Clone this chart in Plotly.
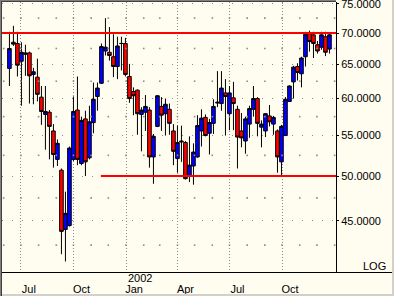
import math
import pandas as pd
import plotly.graph_objects as go

# Weekly bars, first week starting 2001-06-11
weeks = pd.date_range("2001-06-11", periods=81, freq="7D")

opens = [64.4, 68.5, 68.3, 65.5, 66.8, 66.8, 63.5, 63.1, 60.2, 57.8,
         58.1, 55.6, 52.0, 50.7, 44.1, 44.5, 52.0, 58.4, 51.5, 57.2,
         52.2, 56.7, 60.3, 62.2, 67.1, 66.9, 66.2, 64.7, 68.3, 68.3,
         63.2, 61.0, 61.2, 57.8, 58.1, 58.4, 52.3, 56.2, 58.9, 57.9,
         58.5, 55.6, 52.1, 54.3, 54.1, 50.0, 51.2, 52.3, 55.6, 57.4,
         55.3, 56.6, 59.5, 59.3, 60.8, 57.9, 60.1, 58.5, 55.6, 54.3,
         56.5, 58.5, 60.0, 56.1, 55.6, 57.6, 56.5, 55.6, 51.7, 55.0,
         59.6, 62.4, 64.7, 63.6, 66.2, 69.9, 69.7, 68.1, 67.7, 69.4,
         67.4]
highs = [70.2, 71.2, 70.2, 68.5, 68.1, 67.0, 64.5, 65.9, 61.8, 61.8,
         58.4, 56.5, 54.5, 50.9, 48.2, 53.6, 60.3, 63.2, 57.5, 58.3,
         59.0, 62.3, 62.3, 68.3, 72.5, 71.0, 69.8, 69.4, 69.4, 69.2,
         65.1, 61.6, 61.3, 58.8, 60.5, 58.8, 55.2, 60.5, 60.2, 60.0,
         59.3, 56.5, 56.3, 56.3, 54.3, 54.9, 54.0, 57.7, 58.5, 57.8,
         57.2, 59.9, 64.0, 64.0, 62.8, 61.8, 62.4, 59.0, 58.0, 57.5,
         59.0, 61.8, 60.2, 57.0, 58.0, 59.1, 57.6, 55.8, 56.4, 60.2,
         61.9, 64.8, 65.2, 66.2, 70.2, 70.4, 70.2, 68.7, 70.2, 70.2,
         70.0]
lows = [61.8, 67.9, 63.2, 59.0, 63.3, 59.3, 59.2, 59.6, 56.4, 53.2,
        52.0, 51.0, 51.2, 41.6, 40.9, 44.4, 51.8, 51.3, 51.3, 50.0,
        52.0, 55.3, 58.3, 62.1, 66.4, 65.6, 63.1, 62.8, 64.1, 63.2,
        59.4, 57.7, 55.1, 53.0, 55.6, 51.0, 49.1, 56.1, 55.6, 55.0,
        55.1, 51.3, 50.4, 51.7, 49.6, 49.3, 49.0, 52.2, 53.6, 54.9,
        52.6, 55.2, 58.8, 58.3, 55.0, 55.7, 55.7, 50.9, 53.5, 52.7,
        54.7, 57.5, 54.9, 53.5, 54.8, 56.2, 55.1, 50.4, 50.0, 55.0,
        59.6, 60.0, 62.6, 61.6, 64.7, 67.0, 66.0, 66.7, 67.3, 66.3,
        66.7]
closes = [67.5, 68.2, 64.9, 66.9, 66.6, 63.3, 63.9, 60.6, 58.2, 58.2,
          56.2, 52.6, 54.0, 43.9, 45.8, 53.4, 58.2, 52.0, 57.0, 51.7,
          56.8, 59.9, 61.5, 67.8, 67.7, 66.4, 64.7, 67.9, 68.3, 63.5,
          60.0, 60.4, 57.9, 58.4, 58.9, 52.3, 54.9, 60.4, 57.7, 59.2,
          56.6, 53.0, 54.1, 54.2, 49.7, 51.3, 52.9, 56.3, 57.3, 55.0,
          56.7, 58.9, 59.4, 61.5, 60.3, 60.8, 59.3, 54.8, 54.7, 57.2,
          58.6, 60.0, 56.6, 56.5, 57.9, 56.8, 57.4, 52.3, 56.2, 59.9,
          61.8, 64.6, 63.8, 66.0, 69.8, 68.6, 68.3, 67.1, 69.7, 66.9,
          69.7]

# Horizontal trend lines drawn on the chart: (start date, level)
resistance_start, resistance_level = "2001-05-01", 70.0
support_start, support_level = "2001-11-18", 50.0

y_ticks = [45, 50, 55, 60, 65, 70, 75]
y_minor = [42.5, 47.5, 52.5, 57.5, 62.5, 67.5, 72.5]
quarter_ticks = ["2001-07-01", "2001-10-01", "2002-01-01", "2002-04-01",
                 "2002-07-01", "2002-10-01"]
quarter_labels = ["Jul", "Oct", "Jan", "Apr", "Jul", "Oct"]
x_range = ["2001-05-29", "2003-01-03 10:00"]
y_range = [39.9, 75.3]

FONT = "Liberation Sans, Arial, sans-serif"
BG = "#FFFCF0"
GRID = "#8c8c8c"

months = pd.date_range("2001-06-01", "2003-01-01", freq="MS")
gx, gy = [], []
for m in months:
    for v in y_minor:
        gx.append(m)
        gy.append(v)

fig = go.Figure()
fig.add_trace(go.Scatter(x=gx, y=gy, mode="markers", hoverinfo="skip",
                         marker=dict(symbol="square", size=1.6, color=GRID, line=dict(width=0)),
                         showlegend=False))
fig.add_trace(go.Candlestick(
    x=weeks, open=opens, high=highs, low=lows, close=closes,
    increasing=dict(line=dict(color="black", width=1), fillcolor="#0000FF"),
    decreasing=dict(line=dict(color="black", width=1), fillcolor="#FF0000"),
    whiskerwidth=0, showlegend=False, hoverinfo="skip"))

fig.update_layout(
    width=394, height=296,
    margin=dict(l=2, r=58, t=2, b=24),
    paper_bgcolor=BG, plot_bgcolor=BG,
    boxgap=0.1, boxgroupgap=0,
    font=dict(family=FONT, size=11, color="black"),
    showlegend=False,
    xaxis=dict(type="date", range=x_range, rangeslider=dict(visible=False),
               automargin=False,
               tickvals=quarter_ticks, ticktext=quarter_labels,
               showgrid=True, gridcolor=GRID, griddash="1px,2px", gridwidth=1,
               showline=False, ticks="", zeroline=False,
               ticklabelshift=8, ticklabelstandoff=9,
               tickfont=dict(family=FONT, size=11, color="black")),
    yaxis=dict(type="log", side="right", automargin=False,
               range=[math.log10(y_range[0]), math.log10(y_range[1])],
               tickvals=y_ticks, ticktext=[f"{v:.4f}" for v in y_ticks],
               showgrid=True, gridcolor=GRID, griddash="1px,9px", gridwidth=1,
               showline=True, linecolor="black", linewidth=1, mirror=False,
               ticks="outside", ticklen=2, tickcolor="black",
               zeroline=False, ticklabeloverflow="allow",
               tickfont=dict(family=FONT, size=11, color="black")),
)

shapes = []
shapes.append(dict(type="line", xref="x", yref="y", x0=resistance_start, x1="2003-03-01",
                   y0=resistance_level, y1=resistance_level, line=dict(color="#FF0000", width=2)))
shapes.append(dict(type="line", xref="x", yref="y", x0=support_start, x1="2003-03-01",
                   y0=support_level, y1=support_level, line=dict(color="#FF0000", width=2)))
px = lambda p: (p - 2) / 334.0
py = lambda p: (272 - p) / 270.0
shapes.append(dict(type="line", xref="paper", yref="paper", x0=px(0), x1=px(392),
                   y0=py(272.5), y1=py(272.5), line=dict(color="black", width=1)))
# window frame (dark top edge only over the plot area)
shapes.append(dict(type="rect", xref="paper", yref="paper", x0=px(0), x1=px(336), y0=py(0), y1=py(1),
                   fillcolor="#808080", line=dict(width=0)))
shapes.append(dict(type="rect", xref="paper", yref="paper", x0=px(0), x1=px(1), y0=py(0), y1=py(296),
                   fillcolor="#808080", line=dict(width=0)))
shapes.append(dict(type="rect", xref="paper", yref="paper", x0=px(1), x1=px(336), y0=py(1), y1=py(2),
                   fillcolor="#404040", line=dict(width=0)))
shapes.append(dict(type="rect", xref="paper", yref="paper", x0=px(1), x1=px(2), y0=py(1), y1=py(296),
                   fillcolor="#404040", line=dict(width=0)))
shapes.append(dict(type="rect", xref="paper", yref="paper", x0=px(392), x1=px(394), y0=py(0), y1=py(296),
                   fillcolor="#D4D0C8", line=dict(width=0)))
shapes.append(dict(type="rect", xref="paper", yref="paper", x0=px(2), x1=px(394), y0=py(294), y1=py(296),
                   fillcolor="#D4D0C8", line=dict(width=0)))
fig.update_layout(shapes=shapes)

fig.add_annotation(x="2002-01-01", y=0, xref="x", yref="paper", text="2002",
                   showarrow=False, xanchor="left", yanchor="top", yshift=2,
                   font=dict(family=FONT, size=11, color="black"))
fig.add_annotation(x=px(388), y=0, xref="paper", yref="paper", text="LOG",
                   showarrow=False, xanchor="right", yanchor="bottom", yshift=-2,
                   font=dict(family=FONT, size=11, color="black"))

fig.write_html("out.html")
